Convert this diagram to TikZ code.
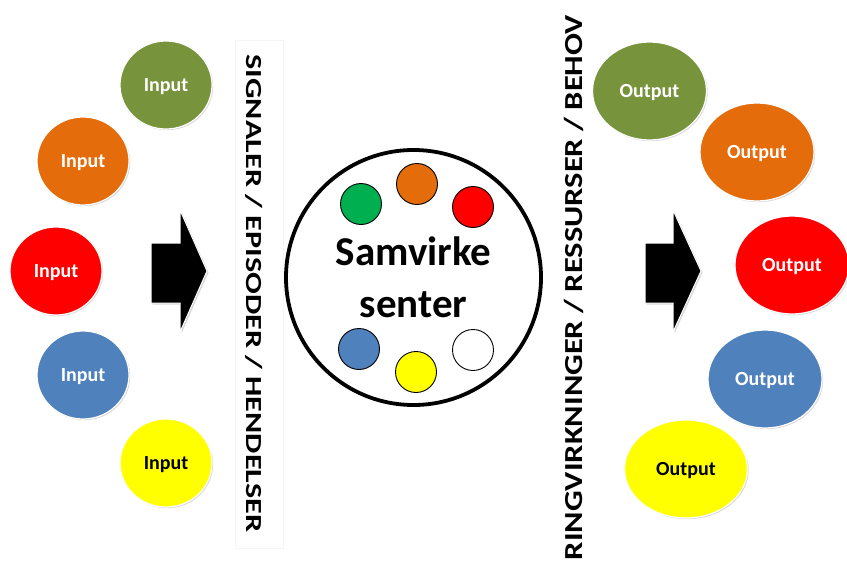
\documentclass[tikz,border=0pt]{standalone}
\usepackage{fontspec}
\setmainfont{Carlito}
\usepackage{xcolor}
\usepackage{tikz}
\usetikzlibrary{shapes.geometric,shadows}
\definecolor{cOlive}{HTML}{77933C}
\definecolor{cOrange}{HTML}{E46C0A}
\definecolor{cRed}{HTML}{FF0000}
\definecolor{cBlue}{HTML}{4F81BD}
\definecolor{cYellow}{HTML}{FFFF00}
\definecolor{cGreen}{HTML}{00B050}
\tikzset{
  bub/.style={ellipse, draw=white, line width=1.2pt, inner sep=0pt, text depth=0pt, text=white, font=\fontsize{20}{24}\selectfont\bfseries, drop shadow={shadow xshift=1.2pt, shadow yshift=-1.2pt, opacity=0.3}},
  inbub/.style={bub, minimum width=92pt, minimum height=88pt},
  outbub/.style={bub, minimum width=114pt, minimum height=98pt},
  dot/.style={circle, draw=black, line width=0.9pt, minimum size=41pt, inner sep=0pt},
  barr/.style={fill=black, draw=white, line width=1pt, drop shadow={shadow xshift=1.5pt, shadow yshift=-1.5pt, opacity=0.3}},
  vtxt/.style={inner sep=0pt, font=\bfseries}
}

\begin{document}
\begin{tikzpicture}[x=1pt, y=-1pt]
\clip (0,0) rectangle (847,562);
\fill[white] (0,0) rectangle (847,562);
% input side
\node[inbub, fill=cOlive] (in1) at (166,85) {Input};
\node[inbub, fill=cOrange] (in2) at (83,161) {Input};
\node[inbub, fill=cRed] (in3) at (56,271) {Input};
\node[inbub, fill=cBlue] (in4) at (83,375) {Input};
\node[inbub, fill=cYellow, text=black] (in5) at (166,463) {Input};
\draw[barr] (151,243) -- (180,243) -- (180,210) -- (207,271) -- (180,332) -- (180,303) -- (151,303) -- cycle;
\draw[black!4] (235,40) rectangle (283,548);
\node[vtxt, rotate=-90] (sig) at (254.5,293.5) {\scalebox{1.4}[1]{\fontsize{23}{23}\selectfont SIGNALER / EPISODER / HENDELSER}};
% centre
\node[circle, draw=black, line width=3.8pt, minimum size=255pt, align=center, font=\fontsize{41}{52}\selectfont\bfseries] (c0) at (413.5,277.5) {Samvirke\\senter};
\node[dot, fill=cGreen] (d1) at (361,204) {};
\node[dot, fill=cOrange] (d2) at (417,184) {};
\node[dot, fill=cRed] (d3) at (473,207) {};
\node[dot, fill=cBlue] (d4) at (359,349) {};
\node[dot, fill=cYellow] (d5) at (416,372) {};
\node[dot, fill=white] (d6) at (473,350) {};
% output side
\node[vtxt, rotate=90] (ring) at (573.5,287.5) {\scalebox{1.25}[1]{\fontsize{26}{26}\selectfont RINGVIRKNINGER / RESSURSER / BEHOV}};
\draw[barr] (645,243) -- (673,243) -- (673,210) -- (701,271) -- (673,332) -- (673,303) -- (645,303) -- cycle;
\node[outbub, fill=cOlive] (out1) at (649.5,91) {Output};
\node[outbub, fill=cOrange] (out2) at (757,152) {Output};
\node[outbub, fill=cRed] (out3) at (792,265) {Output};
\node[outbub, fill=cBlue] (out4) at (765,379) {Output};
\node[outbub, fill=cYellow, text=black, minimum width=123pt] (out5) at (686,469) {Output};
\end{tikzpicture}
\end{document}
